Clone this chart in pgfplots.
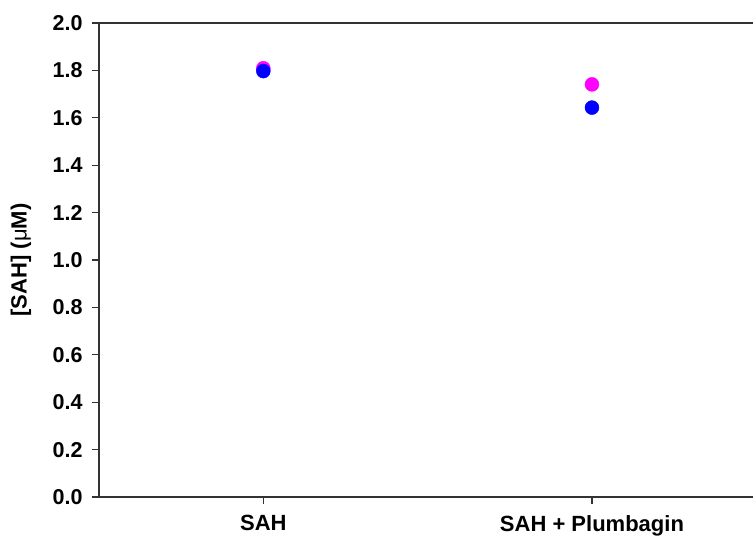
\documentclass[border=0pt]{standalone}
\usepackage{fontspec}
\setmainfont{Liberation Sans}
\usepackage{pgfplots}
\pgfplotsset{compat=1.18}
\definecolor{pink}{RGB}{255,0,255}
\definecolor{dblue}{RGB}{0,0,255}
\begin{document}
\begin{tikzpicture}
\begin{axis}[
  name=ax,
  scale only axis,
  width=654pt, height=474pt,
  xmin=0.5, xmax=2.49,
  ymin=0, ymax=2.0,
  axis x line*=box,
  axis y line*=left,
  axis line style={black!80, line width=1.2pt},
  every tick/.style={black!80, line width=1.2pt},
  tick align=outside,
  major tick length=7pt,
  xtick={1,2},
  xticklabels={SAH, SAH + Plumbagin},
  xtick pos=bottom,
  ytick={0,0.2,...,2.0},
  ytick pos=left,
  /pgf/number format/assume math mode=true,
  yticklabel={\pgfmathprintnumber[fixed,fixed zerofill,precision=1]{\tick}},
  yticklabel style={font=\fontsize{21.5}{21.5}\selectfont\bfseries, xshift=-6pt},
  xticklabel style={font=\fontsize{22}{22}\selectfont\bfseries, yshift=-8pt},
  ylabel={[SAH] ({\mdseries μ}M)},
  ylabel style={font=\fontsize{22}{22}\selectfont\bfseries, at={(axis description cs:-0.1193,0.5)}, anchor=center},
  clip=false,
]
\addplot[only marks, mark=*, mark size=7pt, mark options={fill=pink, draw=pink}] coordinates {(1,1.809) (2,1.741)};
\addplot[only marks, mark=*, mark size=7pt, mark options={fill=dblue, draw=dblue}] coordinates {(1,1.797) (2,1.643)};
\end{axis}
\pgfresetboundingbox
\path[use as bounding box] ([shift={(-99pt,-43pt)}]ax.south west) rectangle ([shift={(0pt,23pt)}]ax.north east);
\end{tikzpicture}
\end{document}
